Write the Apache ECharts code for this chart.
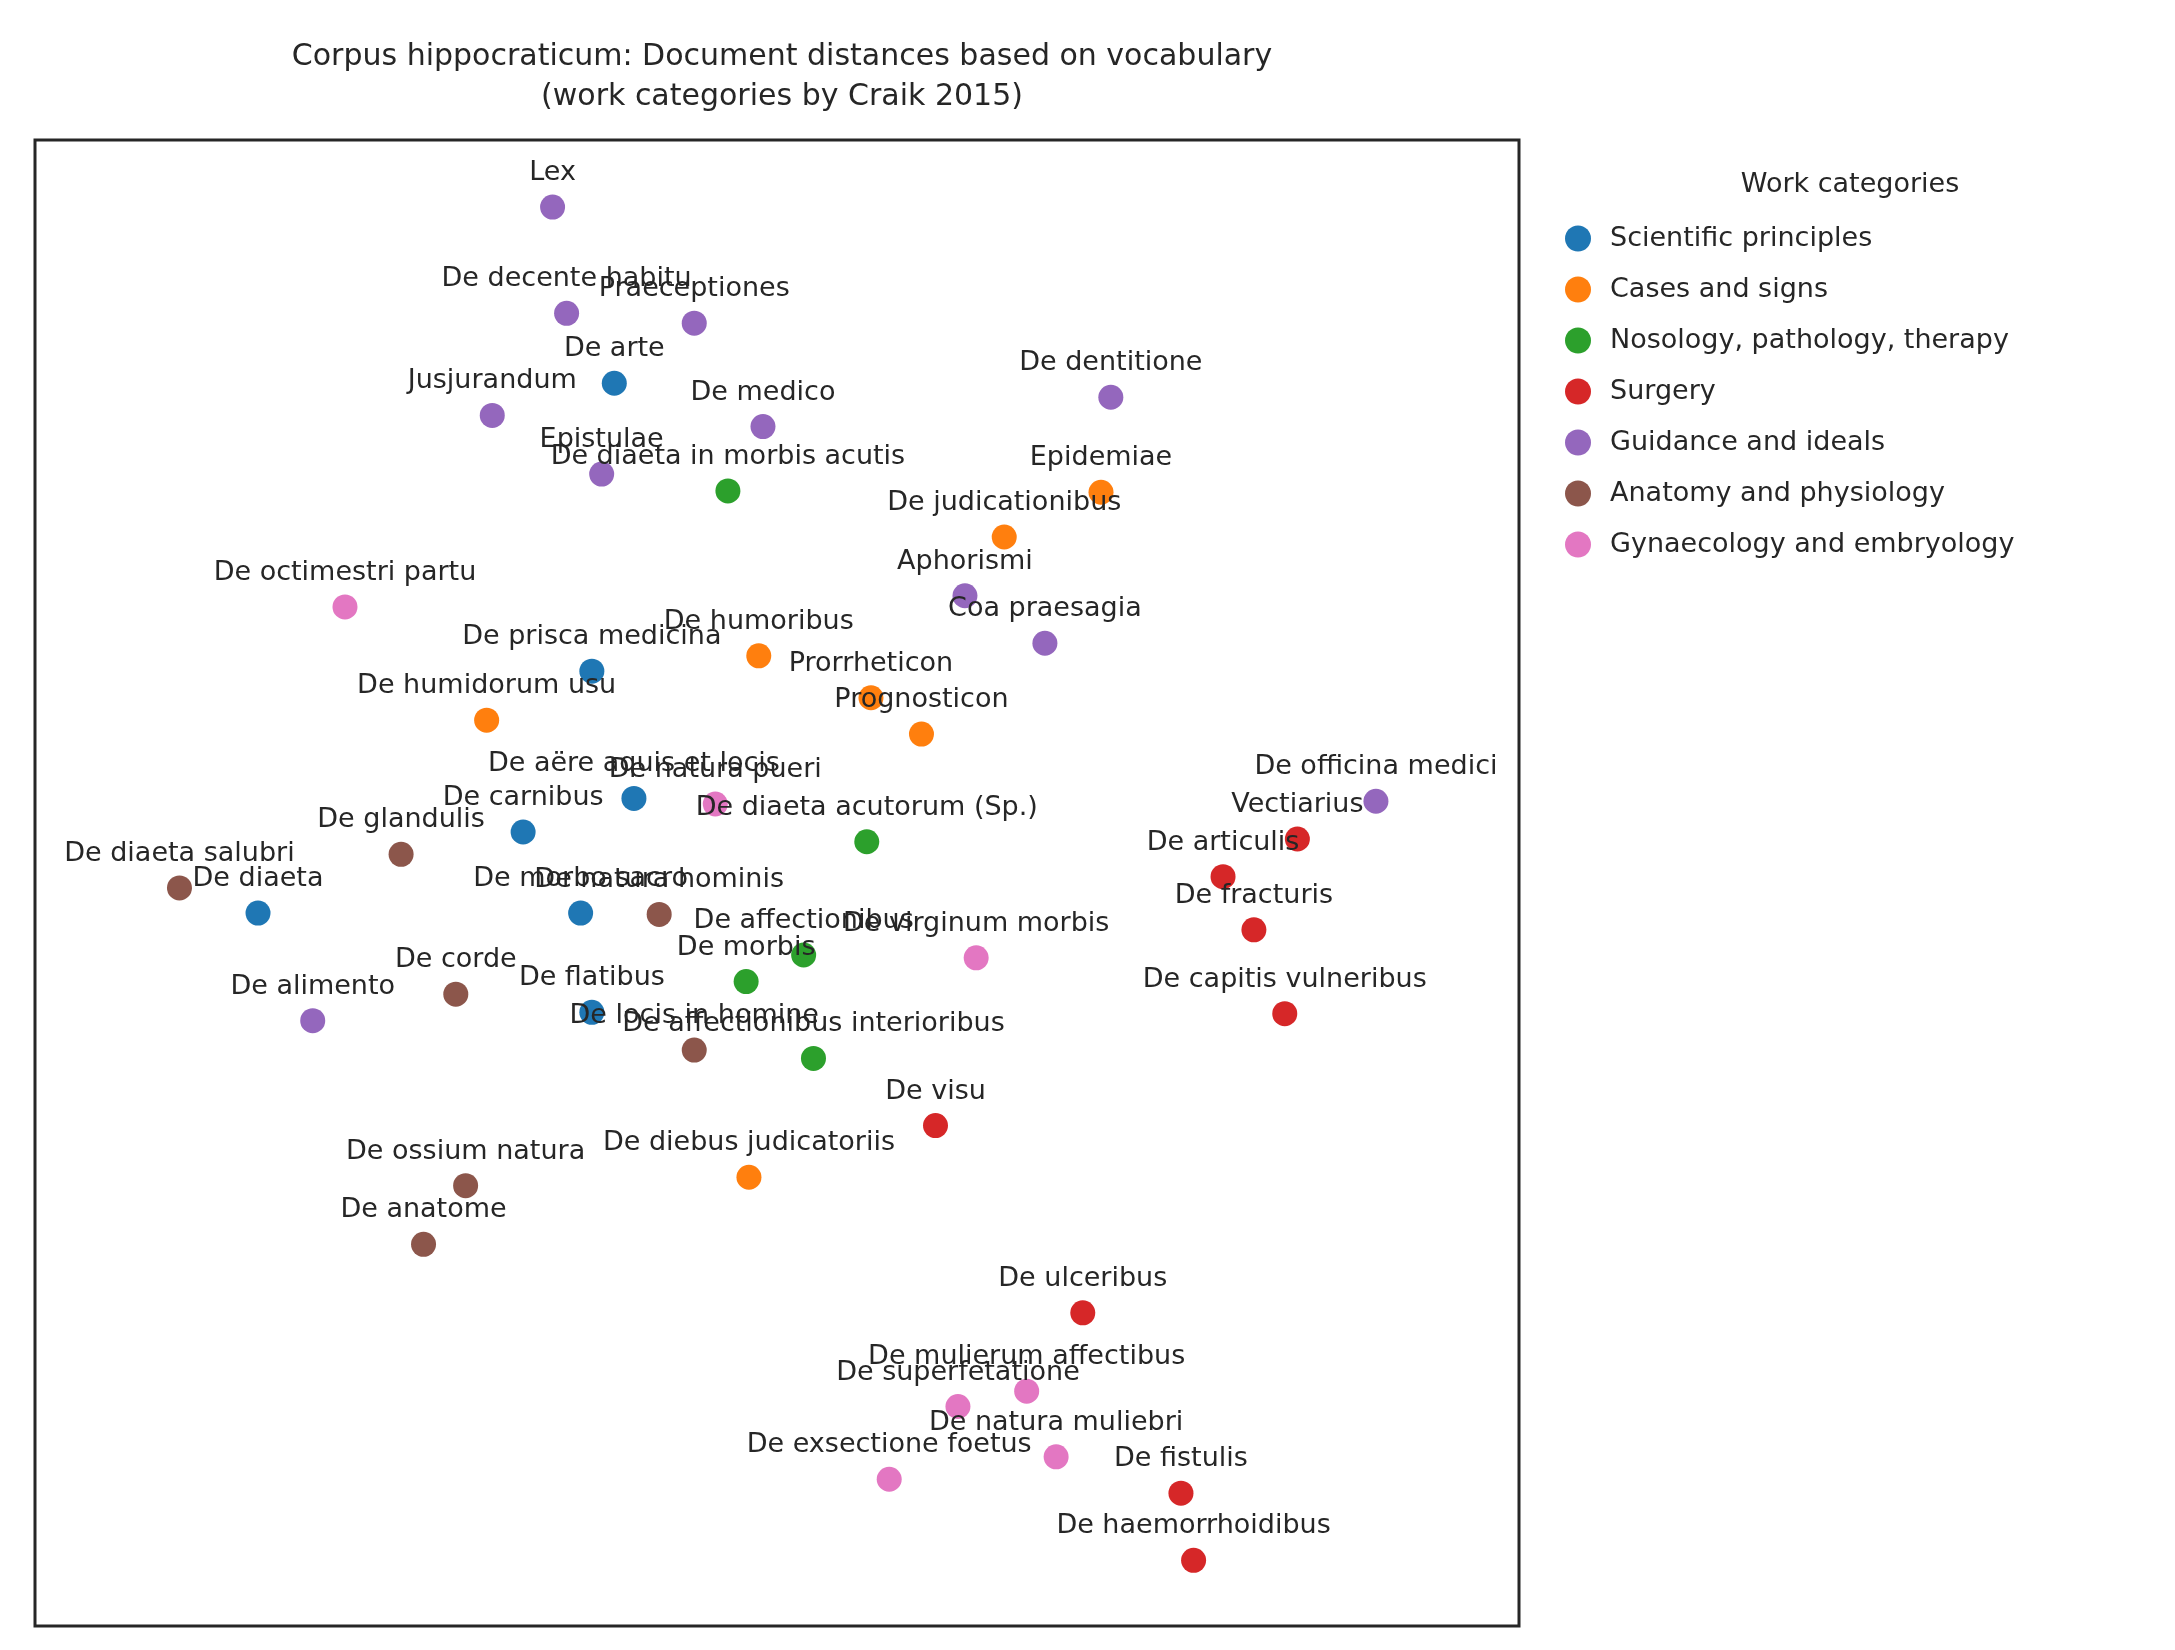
<!DOCTYPE html>
<html>
<head>
<meta charset="utf-8">
<script src="https://cdn.jsdelivr.net/npm/echarts@6/dist/echarts.min.js"></script>
<style>html,body{margin:0;padding:0;background:#fff}#main{width:2175px;height:1650px}</style>
</head>
<body>
<div id="main"></div>
<script>
// categories and colours
var categories = ['Scientific principles', 'Cases and signs', 'Nosology, pathology, therapy',
  'Surgery', 'Guidance and ideals', 'Anatomy and physiology', 'Gynaecology and embryology'];
var colors = ['#1f77b4', '#ff7f0e', '#2ca02c', '#d62728', '#9467bd', '#8c564b', '#e377c2'];

// works per category: names, x, y (embedding coordinates)
var sciNames = ['De arte', 'De prisca medicina', 'De aëre aquis et locis', 'De carnibus', 'De diaeta', 'De morbo sacro', 'De flatibus'];
var sciX = [438, 422, 452, 373, 184, 414, 422];
var sciY = [274, 480, 571, 595, 653, 653, 724];

var casNames = ['Epidemiae', 'De judicationibus', 'De humoribus', 'Prorrheticon', 'Prognosticon', 'De humidorum usu', 'De diebus judicatoriis'];
var casX = [785, 716, 541, 621, 657, 347, 534];
var casY = [352, 384, 469, 499, 525, 515, 842];

var nosNames = ['De diaeta in morbis acutis', 'De diaeta acutorum (Sp.)', 'De affectionibus', 'De morbis', 'De affectionibus interioribus'];
var nosX = [519, 618, 573, 532, 580];
var nosY = [351, 602, 683, 702, 757];

var surNames = ['Vectiarius', 'De articulis', 'De fracturis', 'De capitis vulneribus', 'De visu', 'De ulceribus', 'De fistulis', 'De haemorrhoidibus'];
var surX = [925, 872, 894, 916, 667, 772, 842, 851];
var surY = [600, 627, 665, 725, 805, 939, 1068, 1116];

var guiNames = ['Lex', 'De decente habitu', 'Praeceptiones', 'Jusjurandum', 'De medico', 'Epistulae', 'De dentitione', 'Aphorismi', 'Coa praesagia', 'De officina medici', 'De alimento'];
var guiX = [394, 404, 495, 351, 544, 429, 792, 688, 745, 981, 223];
var guiY = [148, 224, 231, 297, 305, 339, 284, 426, 460, 573, 730];

var anaNames = ['De diaeta salubri', 'De glandulis', 'De natura hominis', 'De corde', 'De locis in homine', 'De ossium natura', 'De anatome'];
var anaX = [128, 286, 470, 325, 495, 332, 302];
var anaY = [635, 611, 654, 711, 751, 848, 890];

var gynNames = ['De octimestri partu', 'De natura pueri', 'De virginum morbis', 'De mulierum affectibus', 'De superfetatione', 'De natura muliebri', 'De exsectione foetus'];
var gynX = [246, 510, 696, 732, 683, 753, 634];
var gynY = [434, 575, 685, 995, 1006, 1042, 1058];

var groups = [
  [sciNames, sciX, sciY], [casNames, casX, casY], [nosNames, nosX, nosY],
  [surNames, surX, surY], [guiNames, guiX, guiY], [anaNames, anaX, anaY], [gynNames, gynX, gynY]
];

var font = 'DejaVu Sans';
var series = groups.map(function (g, i) {
  var pts = g[0].map(function (n, k) { return { name: n, value: [g[1][k], g[2][k]] }; });
  return {
    name: categories[i],
    type: 'scatter',
    symbolSize: 25,
    itemStyle: { color: colors[i], opacity: 1 },
    label: {
      show: true, position: 'top', distance: 8,
      formatter: '{b}', color: '#262626', fontSize: 27, fontFamily: font
    },
    labelLayout: { hideOverlap: false },
    data: pts
  };
});

var chart = echarts.init(document.getElementById('main'));
chart.setOption({
  backgroundColor: '#fff',
  animation: false,
  color: colors,
  title: [{
    text: 'Corpus hippocraticum: Document distances based on vocabulary\n(work categories by Craik 2015)',
    left: 777, top: 32, textAlign: 'center',
    textStyle: { fontSize: 30, fontWeight: 'normal', color: '#262626', fontFamily: font, lineHeight: 40 }
  }, {
    text: 'Work categories', left: 1845, top: 166, textAlign: 'center',
    textStyle: { fontSize: 27, fontWeight: 'normal', color: '#262626', fontFamily: font }
  }],
  legend: {
    orient: 'vertical', left: 1560, top: 220,
    icon: 'circle', itemWidth: 26, itemHeight: 26, itemGap: 24,
    textStyle: { fontSize: 27, color: '#262626', fontFamily: font, padding: [0, 0, 0, 14] },
    data: categories
  },
  grid: { left: 35, top: 140, width: 1484, height: 1486, show: true, borderColor: '#262626', borderWidth: 3 },
  xAxis: { type: 'value', min: 25, max: 1083, show: false },
  yAxis: { type: 'value', min: 100, max: 1163, inverse: true, show: false },
  series: series
});
</script>
</body>
</html>
